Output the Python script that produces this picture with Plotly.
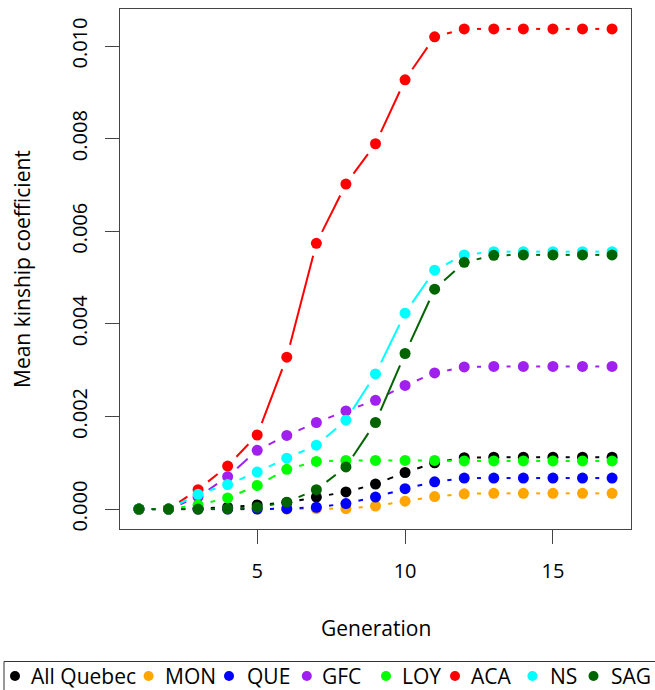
import math
import plotly.graph_objects as go

# Mean kinship coefficient by generation, per region (values in units of 1e-3)
generation = list(range(1, 18))

all_quebec = [0, 0, 0.01, 0.04, 0.09, 0.14, 0.26, 0.37, 0.54, 0.79, 1.00, 1.11, 1.12, 1.12, 1.12, 1.12, 1.12]
mon = [0, 0, 0, 0, 0, 0, 0.01, 0.01, 0.065, 0.17, 0.27, 0.33, 0.34, 0.34, 0.34, 0.34, 0.34]
que = [0, 0, 0, 0, 0, 0.01, 0.04, 0.12, 0.26, 0.44, 0.59, 0.67, 0.67, 0.67, 0.67, 0.67, 0.67]
gfc = [0, 0, 0.26, 0.70, 1.27, 1.59, 1.87, 2.12, 2.35, 2.67, 2.94, 3.07, 3.08, 3.08, 3.08, 3.08, 3.08]
loy = [0, 0, 0.09, 0.24, 0.51, 0.86, 1.03, 1.05, 1.05, 1.05, 1.05, 1.04, 1.04, 1.04, 1.04, 1.04, 1.04]
aca = [0, 0, 0.42, 0.93, 1.60, 3.28, 5.74, 7.02, 7.89, 9.27, 10.20, 10.37, 10.37, 10.37, 10.37, 10.37, 10.37]
ns = [0, 0, 0.32, 0.53, 0.80, 1.10, 1.38, 1.92, 2.92, 4.23, 5.16, 5.49, 5.56, 5.56, 5.56, 5.56, 5.56]
sag = [0, 0, 0.0, 0.01, 0.04, 0.15, 0.42, 0.91, 1.87, 3.36, 4.75, 5.33, 5.48, 5.49, 5.49, 5.49, 5.49]

region_names = ["All Quebec", "MON", "QUE", "GFC", "LOY", "ACA", "NS", "SAG"]
region_values = [all_quebec, mon, que, gfc, loy, aca, ns, sag]
region_colors = ["#000000", "#FFA500", "#0000FF", "#A020F0", "#00FF00", "#FF0000", "#00FFFF", "#006400"]

x_ticks = [5, 10, 15]
y_ticks = [0.000, 0.002, 0.004, 0.006, 0.008, 0.010]

# Figure geometry
FIG_W, FIG_H = 655, 690
M_L, M_R, M_T, M_B = 120, 24, 9, 161
PLOT_W = FIG_W - M_L - M_R
PLOT_H = FIG_H - M_T - M_B
X_RANGE = [0.36, 17.64]
Y_RANGE = [-0.00043, 0.0108]
SX = PLOT_W / (X_RANGE[1] - X_RANGE[0])
SY = PLOT_H / (Y_RANGE[1] - Y_RANGE[0])
GAP_PX = 12.8  # line break left around each point ("b" style plot)

AXIS_COLOR = "#444444"
FONT = "Open Sans"


def broken_path(xs, ys):
    """Connect consecutive points, leaving a gap of GAP_PX around each point."""
    px, py = [], []
    for x0, y0, x1, y1 in zip(xs, ys, xs[1:], ys[1:]):
        dx = (x1 - x0) * SX
        dy = (y1 - y0) * SY
        d = math.hypot(dx, dy)
        if d <= 2 * GAP_PX:
            continue
        f = GAP_PX / d
        px += [x0 + (x1 - x0) * f, x1 - (x1 - x0) * f, None]
        py += [y0 + (y1 - y0) * f, y1 - (y1 - y0) * f, None]
    return px, py


fig = go.Figure()

for name, vals, color in zip(region_names, region_values, region_colors):
    yv = [v * 1e-3 for v in vals]
    lx, ly = broken_path(generation, yv)
    fig.add_trace(go.Scatter(
        x=lx, y=ly, mode="lines", line=dict(color=color, width=2),
        showlegend=False, hoverinfo="skip", cliponaxis=False,
    ))
    fig.add_trace(go.Scatter(
        x=generation, y=yv, mode="markers", name=name,
        marker=dict(color=color, size=11, line=dict(width=0)),
        showlegend=False, cliponaxis=False,
    ))

fig.update_layout(
    width=FIG_W, height=FIG_H,
    margin=dict(l=M_L, r=M_R, t=M_T, b=M_B, pad=0),
    plot_bgcolor="white", paper_bgcolor="white",
    font=dict(family=FONT, size=20, color="black"),
    xaxis=dict(
        range=X_RANGE, tickvals=x_ticks, ticktext=[str(v) for v in x_ticks],
        showgrid=False, zeroline=False,
        showline=True, mirror=True, linecolor=AXIS_COLOR, linewidth=1,
        ticks="outside", ticklen=14, tickwidth=1, tickcolor=AXIS_COLOR,
        ticklabelstandoff=10,
        tickfont=dict(family=FONT, size=20, color="black"),
    ),
    yaxis=dict(
        range=Y_RANGE, tickvals=y_ticks, ticktext=[f"{v:.3f}" for v in y_ticks],
        showgrid=False, zeroline=False,
        showline=True, mirror=True, linecolor=AXIS_COLOR, linewidth=1,
        ticks="outside", ticklen=14, tickwidth=1, tickcolor=AXIS_COLOR,
        tickangle=-90, ticklabelstandoff=10,
        tickfont=dict(family=FONT, size=20, color="black"),
    ),
)


def px_to_paper_x(px):
    return (px - M_L) / PLOT_W


def px_to_paper_y(py):
    return (FIG_H - M_B - py) / PLOT_H


annotations = [
    dict(text="Generation", xref="paper", yref="paper",
         x=0.5, y=px_to_paper_y(628), xanchor="center", yanchor="middle",
         showarrow=False, font=dict(family=FONT, size=21, color="black")),
    dict(text="Mean kinship coefficient", xref="paper", yref="paper",
         x=px_to_paper_x(22), y=0.5, xanchor="center", yanchor="middle",
         textangle=-90, showarrow=False,
         font=dict(family=FONT, size=21, color="black")),
]

# Legend row along the bottom of the figure
legend_dot_x = [15, 148.6, 229, 306.8, 386, 455, 532.4, 593.5]
legend_text_x = [29, 163, 245, 320, 400, 469, 548, 609]
legend_row_y = 676

shapes = [
    dict(type="rect", xref="paper", yref="paper",
         x0=px_to_paper_x(4), x1=px_to_paper_x(720),
         y0=px_to_paper_y(661.5), y1=px_to_paper_y(740),
         line=dict(color="#333333", width=1), fillcolor="rgba(0,0,0,0)"),
]
for name, color, dx, tx in zip(region_names, region_colors, legend_dot_x, legend_text_x):
    shapes.append(dict(
        type="circle", xref="paper", yref="paper",
        xsizemode="pixel", ysizemode="pixel",
        xanchor=px_to_paper_x(dx), yanchor=px_to_paper_y(legend_row_y),
        x0=-5, x1=5, y0=-5, y1=5,
        fillcolor=color, line=dict(width=0),
    ))
    annotations.append(dict(
        text=name, xref="paper", yref="paper",
        x=px_to_paper_x(tx), y=px_to_paper_y(legend_row_y),
        xanchor="left", yanchor="middle", showarrow=False,
        font=dict(family=FONT, size=21, color="black"),
    ))

fig.update_layout(annotations=annotations, shapes=shapes)

fig.write_html("out.html")
